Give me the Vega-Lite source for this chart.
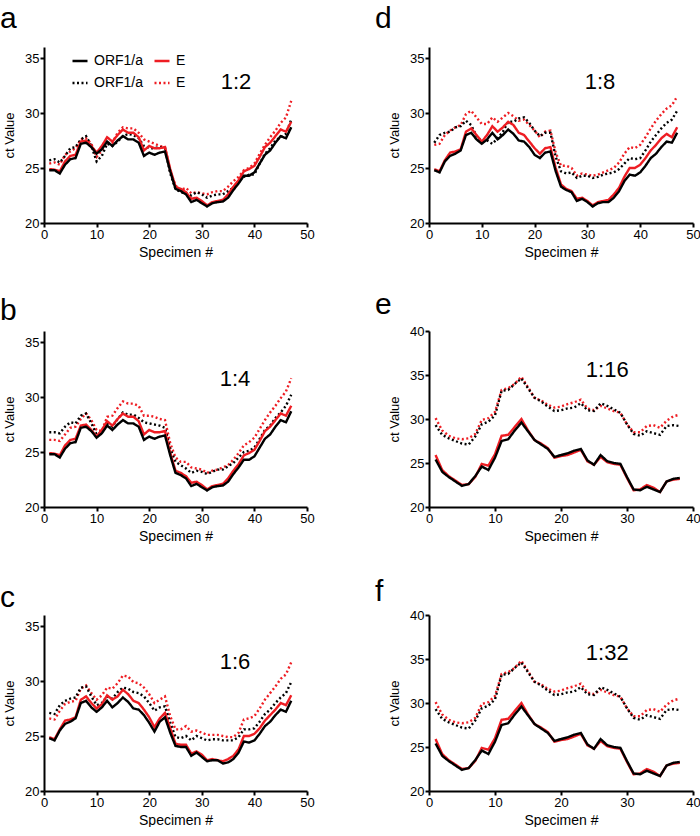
{
  "$schema": "https://vega.github.io/schema/vega-lite/v6.json",
  "background": "white",
  "padding": {"left": 0, "top": 4, "right": 0, "bottom": 0},
  "config": {
    "font": "Liberation Sans",
    "view": {"stroke": null},
    "axis": {
      "grid": false, "domainColor": "black", "domainWidth": 2,
      "tickColor": "black", "tickWidth": 2, "tickSize": 4,
      "labelColor": "black", "labelFontSize": 13, "labelPadding": 1,
      "titleFontSize": 14, "titleFontWeight": "normal", "titleColor": "black"
    },
    "axisX": {"labelFlush": false, "titlePadding": 4},
    "axisY": {"titleFontSize": 13, "titlePadding": 8},
    "title": {"fontSize": 30, "fontWeight": "normal", "color": "black", "anchor": "start", "frame": "group"},
    "line": {"strokeWidth": 2.4, "strokeCap": "butt"},
    "text": {"fontSize": 22, "align": "center", "baseline": "middle", "color": "black"}
  },
  "datasets": {
    "a": [
      {"x":1,"o":24.8,"e":24.9,"od":25.7,"ed":25.4},
      {"x":2,"o":24.8,"e":24.85,"od":25.8,"ed":25.5},
      {"x":3,"o":24.5,"e":24.7,"od":25.5,"ed":25.3},
      {"x":4,"o":25.3,"e":25.6,"od":26.1,"ed":26.2},
      {"x":5,"o":25.8,"e":26.1,"od":26.8,"ed":26.5},
      {"x":6,"o":25.9,"e":26.2,"od":26.9,"ed":26.8},
      {"x":7,"o":27.2,"e":27.4,"od":27.6,"ed":27.6},
      {"x":8,"o":27.3,"e":27.5,"od":27.9,"ed":27.7},
      {"x":9,"o":26.9,"e":27.0,"od":27.0,"ed":27.2},
      {"x":10,"o":26.3,"e":26.4,"od":25.6,"ed":26.0},
      {"x":11,"o":26.7,"e":27.0,"od":26.1,"ed":26.6},
      {"x":12,"o":27.4,"e":27.8,"od":27.2,"ed":27.3},
      {"x":13,"o":27.0,"e":27.4,"od":27.0,"ed":27.3},
      {"x":14,"o":27.5,"e":28.0,"od":27.4,"ed":28.2},
      {"x":15,"o":27.9,"e":28.5,"od":27.9,"ed":28.7},
      {"x":16,"o":27.6,"e":28.2,"od":28.1,"ed":28.6},
      {"x":17,"o":27.6,"e":28.2,"od":28.0,"ed":28.6},
      {"x":18,"o":27.3,"e":27.8,"od":27.7,"ed":28.2},
      {"x":19,"o":26.1,"e":26.6,"od":27.0,"ed":27.6},
      {"x":20,"o":26.4,"e":27.0,"od":26.8,"ed":27.4},
      {"x":21,"o":26.2,"e":26.8,"od":26.8,"ed":27.2},
      {"x":22,"o":26.4,"e":26.8,"od":26.9,"ed":27.0},
      {"x":23,"o":26.5,"e":26.9,"od":26.8,"ed":26.9},
      {"x":24,"o":24.7,"e":24.9,"od":24.5,"ed":24.7},
      {"x":25,"o":23.1,"e":23.3,"od":23.1,"ed":23.4},
      {"x":26,"o":22.9,"e":23.1,"od":22.8,"ed":23.0},
      {"x":27,"o":22.6,"e":22.8,"od":22.7,"ed":23.2},
      {"x":28,"o":21.9,"e":22.2,"od":22.5,"ed":22.7},
      {"x":29,"o":22.1,"e":22.3,"od":22.8,"ed":22.8},
      {"x":30,"o":21.8,"e":22.0,"od":22.6,"ed":22.7},
      {"x":31,"o":21.5,"e":21.6,"od":22.3,"ed":22.6},
      {"x":32,"o":21.8,"e":21.9,"od":22.5,"ed":22.8},
      {"x":33,"o":21.9,"e":22.0,"od":22.6,"ed":22.9},
      {"x":34,"o":21.95,"e":22.1,"od":22.6,"ed":22.9},
      {"x":35,"o":22.3,"e":22.6,"od":22.9,"ed":23.3},
      {"x":36,"o":23.0,"e":23.3,"od":23.2,"ed":23.8},
      {"x":37,"o":23.6,"e":23.9,"od":23.8,"ed":24.2},
      {"x":38,"o":24.3,"e":24.7,"od":24.2,"ed":24.8},
      {"x":39,"o":24.3,"e":24.9,"od":24.4,"ed":25.0},
      {"x":40,"o":24.6,"e":25.2,"od":24.4,"ed":25.4},
      {"x":41,"o":25.4,"e":26.0,"od":25.4,"ed":26.3},
      {"x":42,"o":26.2,"e":26.9,"od":26.3,"ed":27.1},
      {"x":43,"o":26.6,"e":27.3,"od":26.8,"ed":27.8},
      {"x":44,"o":27.3,"e":27.9,"od":27.5,"ed":28.4},
      {"x":45,"o":27.9,"e":28.5,"od":27.8,"ed":29.1},
      {"x":46,"o":27.7,"e":28.3,"od":28.1,"ed":29.6},
      {"x":47,"o":28.7,"e":29.2,"od":29.4,"ed":31.1}
    ],
    "b": [
      {"x":1,"o":24.8,"e":24.9,"od":26.8,"ed":26.1},
      {"x":2,"o":24.8,"e":24.85,"od":26.8,"ed":26.1},
      {"x":3,"o":24.5,"e":24.7,"od":26.7,"ed":26.0},
      {"x":4,"o":25.3,"e":25.6,"od":27.3,"ed":26.6},
      {"x":5,"o":25.8,"e":26.1,"od":27.7,"ed":27.2},
      {"x":6,"o":25.9,"e":26.2,"od":27.6,"ed":27.3},
      {"x":7,"o":27.2,"e":27.4,"od":28.3,"ed":28.0},
      {"x":8,"o":27.3,"e":27.5,"od":28.5,"ed":28.5},
      {"x":9,"o":26.9,"e":27.0,"od":27.6,"ed":27.9},
      {"x":10,"o":26.3,"e":26.4,"od":26.6,"ed":27.0},
      {"x":11,"o":26.7,"e":27.0,"od":26.8,"ed":26.9},
      {"x":12,"o":27.4,"e":27.8,"od":27.6,"ed":28.2},
      {"x":13,"o":27.0,"e":27.4,"od":27.3,"ed":28.3},
      {"x":14,"o":27.5,"e":28.0,"od":28.0,"ed":29.0},
      {"x":15,"o":27.9,"e":28.5,"od":28.6,"ed":29.6},
      {"x":16,"o":27.6,"e":28.2,"od":28.4,"ed":29.4},
      {"x":17,"o":27.6,"e":28.2,"od":28.4,"ed":29.4},
      {"x":18,"o":27.3,"e":27.8,"od":28.1,"ed":29.2},
      {"x":19,"o":26.1,"e":26.6,"od":27.7,"ed":28.3},
      {"x":20,"o":26.4,"e":27.0,"od":27.6,"ed":28.3},
      {"x":21,"o":26.2,"e":26.8,"od":27.5,"ed":28.2},
      {"x":22,"o":26.4,"e":26.8,"od":27.4,"ed":28.0},
      {"x":23,"o":26.5,"e":26.9,"od":27.2,"ed":27.9},
      {"x":24,"o":24.7,"e":24.9,"od":25.3,"ed":25.8},
      {"x":25,"o":23.1,"e":23.3,"od":24.1,"ed":24.5},
      {"x":26,"o":22.9,"e":23.1,"od":23.8,"ed":24.1},
      {"x":27,"o":22.6,"e":22.8,"od":23.5,"ed":24.1},
      {"x":28,"o":21.9,"e":22.2,"od":23.1,"ed":23.6},
      {"x":29,"o":22.1,"e":22.3,"od":23.3,"ed":23.5},
      {"x":30,"o":21.8,"e":22.0,"od":23.2,"ed":23.4},
      {"x":31,"o":21.5,"e":21.6,"od":23.0,"ed":23.1},
      {"x":32,"o":21.8,"e":21.9,"od":23.2,"ed":23.3},
      {"x":33,"o":21.9,"e":22.0,"od":23.4,"ed":23.4},
      {"x":34,"o":21.95,"e":22.1,"od":23.4,"ed":23.6},
      {"x":35,"o":22.3,"e":22.6,"od":23.7,"ed":23.8},
      {"x":36,"o":23.0,"e":23.3,"od":24.0,"ed":24.3},
      {"x":37,"o":23.6,"e":23.9,"od":24.5,"ed":24.9},
      {"x":38,"o":24.3,"e":24.7,"od":25.0,"ed":25.6},
      {"x":39,"o":24.3,"e":24.9,"od":25.1,"ed":25.9},
      {"x":40,"o":24.6,"e":25.2,"od":25.4,"ed":26.3},
      {"x":41,"o":25.4,"e":26.0,"od":26.2,"ed":27.1},
      {"x":42,"o":26.2,"e":26.9,"od":27.0,"ed":27.9},
      {"x":43,"o":26.6,"e":27.3,"od":27.4,"ed":28.6},
      {"x":44,"o":27.3,"e":27.9,"od":28.1,"ed":29.2},
      {"x":45,"o":27.9,"e":28.5,"od":28.6,"ed":29.9},
      {"x":46,"o":27.7,"e":28.3,"od":29.2,"ed":30.5},
      {"x":47,"o":28.7,"e":29.2,"od":30.2,"ed":31.7}
    ],
    "c": [
      {"x":1,"o":24.8,"e":24.9,"od":27.1,"ed":26.6},
      {"x":2,"o":24.6,"e":24.7,"od":27.0,"ed":26.5},
      {"x":3,"o":25.5,"e":25.6,"od":27.8,"ed":27.3},
      {"x":4,"o":26.1,"e":26.4,"od":28.2,"ed":27.9},
      {"x":5,"o":26.3,"e":26.5,"od":28.4,"ed":28.1},
      {"x":6,"o":26.6,"e":26.7,"od":28.5,"ed":28.2},
      {"x":7,"o":28.0,"e":28.3,"od":29.4,"ed":29.3},
      {"x":8,"o":28.2,"e":28.6,"od":29.5,"ed":29.6},
      {"x":9,"o":27.6,"e":28.0,"od":28.6,"ed":28.9},
      {"x":10,"o":27.2,"e":27.5,"od":27.8,"ed":28.3},
      {"x":11,"o":27.6,"e":27.9,"od":28.0,"ed":28.7},
      {"x":12,"o":28.2,"e":28.7,"od":28.6,"ed":29.4},
      {"x":13,"o":27.6,"e":28.3,"od":28.4,"ed":29.3},
      {"x":14,"o":28.0,"e":28.6,"od":29.0,"ed":29.8},
      {"x":15,"o":28.5,"e":29.2,"od":29.4,"ed":30.5},
      {"x":16,"o":28.1,"e":28.8,"od":29.3,"ed":30.4},
      {"x":17,"o":27.5,"e":28.2,"od":29.0,"ed":29.9},
      {"x":18,"o":27.4,"e":28.0,"od":28.9,"ed":29.8},
      {"x":19,"o":26.9,"e":27.4,"od":28.6,"ed":29.4},
      {"x":20,"o":26.2,"e":26.7,"od":28.0,"ed":28.8},
      {"x":21,"o":25.4,"e":25.8,"od":27.3,"ed":28.0},
      {"x":22,"o":26.3,"e":26.6,"od":27.6,"ed":28.3},
      {"x":23,"o":26.7,"e":27.1,"od":27.7,"ed":28.6},
      {"x":24,"o":25.3,"e":25.7,"od":26.2,"ed":26.8},
      {"x":25,"o":24.1,"e":24.3,"od":24.9,"ed":25.6},
      {"x":26,"o":24.0,"e":24.2,"od":24.8,"ed":25.6},
      {"x":27,"o":24.0,"e":24.2,"od":25.0,"ed":25.9},
      {"x":28,"o":23.2,"e":23.4,"od":24.6,"ed":25.4},
      {"x":29,"o":23.5,"e":23.6,"od":25.0,"ed":25.5},
      {"x":30,"o":23.1,"e":23.3,"od":24.8,"ed":25.3},
      {"x":31,"o":22.7,"e":22.8,"od":24.6,"ed":25.1},
      {"x":32,"o":22.8,"e":22.9,"od":24.7,"ed":25.1},
      {"x":33,"o":22.8,"e":22.8,"od":24.7,"ed":25.1},
      {"x":34,"o":22.5,"e":22.7,"od":24.6,"ed":25.0},
      {"x":35,"o":22.6,"e":22.9,"od":24.6,"ed":24.9},
      {"x":36,"o":22.9,"e":23.2,"od":24.6,"ed":24.9},
      {"x":37,"o":23.5,"e":23.8,"od":24.9,"ed":25.3},
      {"x":38,"o":24.5,"e":25.0,"od":25.6,"ed":26.5},
      {"x":39,"o":24.4,"e":25.0,"od":25.6,"ed":26.6},
      {"x":40,"o":24.6,"e":25.2,"od":25.7,"ed":26.8},
      {"x":41,"o":25.2,"e":25.7,"od":26.3,"ed":27.5},
      {"x":42,"o":25.9,"e":26.4,"od":27.0,"ed":28.3},
      {"x":43,"o":26.3,"e":26.9,"od":27.4,"ed":28.9},
      {"x":44,"o":26.9,"e":27.4,"od":28.0,"ed":29.5},
      {"x":45,"o":27.4,"e":28.0,"od":28.5,"ed":30.2},
      {"x":46,"o":27.2,"e":27.8,"od":28.9,"ed":30.6},
      {"x":47,"o":28.2,"e":28.7,"od":29.9,"ed":31.7}
    ],
    "d": [
      {"x":1,"o":24.8,"e":24.9,"od":27.3,"ed":27.1},
      {"x":2,"o":24.6,"e":24.7,"od":28.0,"ed":27.2},
      {"x":3,"o":25.6,"e":25.7,"od":28.2,"ed":28.0},
      {"x":4,"o":26.1,"e":26.4,"od":28.3,"ed":28.4},
      {"x":5,"o":26.3,"e":26.5,"od":28.7,"ed":28.7},
      {"x":6,"o":26.6,"e":26.7,"od":28.8,"ed":28.9},
      {"x":7,"o":28.0,"e":28.3,"od":29.3,"ed":29.9},
      {"x":8,"o":28.2,"e":28.6,"od":28.9,"ed":30.2},
      {"x":9,"o":27.6,"e":28.0,"od":27.9,"ed":29.6},
      {"x":10,"o":27.2,"e":27.4,"od":27.4,"ed":29.0},
      {"x":11,"o":27.6,"e":28.0,"od":27.5,"ed":29.0},
      {"x":12,"o":28.2,"e":28.8,"od":27.2,"ed":29.6},
      {"x":13,"o":27.6,"e":28.3,"od":27.7,"ed":29.2},
      {"x":14,"o":28.0,"e":28.7,"od":28.3,"ed":29.6},
      {"x":15,"o":28.5,"e":29.2,"od":29.2,"ed":30.0},
      {"x":16,"o":28.1,"e":28.9,"od":29.2,"ed":29.7},
      {"x":17,"o":27.5,"e":28.2,"od":29.5,"ed":29.3},
      {"x":18,"o":27.4,"e":28.0,"od":29.6,"ed":29.4},
      {"x":19,"o":26.9,"e":27.4,"od":29.1,"ed":28.9},
      {"x":20,"o":26.2,"e":26.8,"od":28.4,"ed":28.4},
      {"x":21,"o":25.9,"e":26.3,"od":27.9,"ed":27.8},
      {"x":22,"o":26.4,"e":26.8,"od":28.2,"ed":28.3},
      {"x":23,"o":26.5,"e":26.9,"od":28.2,"ed":28.4},
      {"x":24,"o":24.7,"e":25.0,"od":26.0,"ed":26.4},
      {"x":25,"o":23.3,"e":23.5,"od":24.7,"ed":25.2},
      {"x":26,"o":23.0,"e":23.1,"od":24.5,"ed":25.2},
      {"x":27,"o":22.8,"e":22.9,"od":24.6,"ed":25.0},
      {"x":28,"o":22.0,"e":22.2,"od":24.1,"ed":24.3},
      {"x":29,"o":22.2,"e":22.3,"od":24.3,"ed":24.5},
      {"x":30,"o":21.9,"e":22.0,"od":24.3,"ed":24.4},
      {"x":31,"o":21.5,"e":21.6,"od":24.1,"ed":24.3},
      {"x":32,"o":21.8,"e":21.9,"od":24.2,"ed":24.4},
      {"x":33,"o":21.9,"e":22.0,"od":24.4,"ed":24.6},
      {"x":34,"o":21.9,"e":22.1,"od":24.5,"ed":24.8},
      {"x":35,"o":22.3,"e":22.6,"od":24.6,"ed":25.0},
      {"x":36,"o":22.9,"e":23.2,"od":24.9,"ed":25.5},
      {"x":37,"o":23.8,"e":24.2,"od":25.4,"ed":26.3},
      {"x":38,"o":24.4,"e":25.0,"od":25.9,"ed":26.9},
      {"x":39,"o":24.3,"e":25.0,"od":25.8,"ed":26.8},
      {"x":40,"o":24.6,"e":25.3,"od":25.9,"ed":27.1},
      {"x":41,"o":25.2,"e":25.9,"od":26.6,"ed":27.8},
      {"x":42,"o":25.9,"e":26.6,"od":27.4,"ed":28.6},
      {"x":43,"o":26.3,"e":27.1,"od":28.0,"ed":29.3},
      {"x":44,"o":26.9,"e":27.7,"od":28.6,"ed":29.9},
      {"x":45,"o":27.4,"e":28.1,"od":29.1,"ed":30.4},
      {"x":46,"o":27.3,"e":27.8,"od":29.4,"ed":30.7},
      {"x":47,"o":28.2,"e":28.7,"od":30.2,"ed":31.5}
    ],
    "e": [
      {"x":1,"o":25.4,"e":25.9,"od":29.3,"ed":30.1},
      {"x":2,"o":24.0,"e":24.2,"od":28.2,"ed":28.7},
      {"x":3,"o":23.4,"e":23.5,"od":27.8,"ed":28.1},
      {"x":4,"o":22.9,"e":23.0,"od":27.5,"ed":27.8},
      {"x":5,"o":22.4,"e":22.5,"od":27.2,"ed":27.7},
      {"x":6,"o":22.6,"e":22.6,"od":27.1,"ed":27.8},
      {"x":7,"o":23.5,"e":23.4,"od":28.0,"ed":28.3},
      {"x":8,"o":24.6,"e":24.9,"od":29.4,"ed":29.9},
      {"x":9,"o":24.2,"e":24.7,"od":29.7,"ed":30.1},
      {"x":10,"o":25.6,"e":26.0,"od":30.4,"ed":30.8},
      {"x":11,"o":27.5,"e":28.1,"od":33.2,"ed":33.3},
      {"x":12,"o":27.7,"e":28.2,"od":33.3,"ed":33.5},
      {"x":13,"o":28.7,"e":29.1,"od":34.0,"ed":34.0},
      {"x":14,"o":29.6,"e":30.0,"od":34.6,"ed":34.8},
      {"x":15,"o":28.6,"e":28.7,"od":33.5,"ed":33.6},
      {"x":16,"o":27.6,"e":27.6,"od":32.4,"ed":32.4},
      {"x":17,"o":27.1,"e":27.2,"od":32.0,"ed":32.1},
      {"x":18,"o":26.6,"e":26.7,"od":31.4,"ed":31.6},
      {"x":19,"o":25.7,"e":25.6,"od":30.9,"ed":31.3},
      {"x":20,"o":25.9,"e":25.8,"od":31.0,"ed":31.4},
      {"x":21,"o":26.1,"e":25.9,"od":31.2,"ed":31.7},
      {"x":22,"o":26.4,"e":26.2,"od":31.3,"ed":31.9},
      {"x":23,"o":26.6,"e":26.5,"od":31.8,"ed":32.2},
      {"x":24,"o":25.3,"e":25.2,"od":31.0,"ed":31.2},
      {"x":25,"o":24.8,"e":24.8,"od":30.9,"ed":31.0},
      {"x":26,"o":25.9,"e":25.7,"od":31.8,"ed":31.5},
      {"x":27,"o":25.2,"e":25.1,"od":31.5,"ed":31.2},
      {"x":28,"o":25.0,"e":24.9,"od":31.1,"ed":30.9},
      {"x":29,"o":24.9,"e":24.8,"od":30.7,"ed":30.7},
      {"x":30,"o":23.4,"e":23.3,"od":29.4,"ed":29.4},
      {"x":31,"o":22.0,"e":21.9,"od":28.3,"ed":28.5},
      {"x":32,"o":21.9,"e":22.0,"od":28.1,"ed":28.5},
      {"x":33,"o":22.3,"e":22.5,"od":28.6,"ed":29.2},
      {"x":34,"o":22.0,"e":22.2,"od":28.4,"ed":29.3},
      {"x":35,"o":21.7,"e":21.7,"od":28.2,"ed":29.0},
      {"x":36,"o":22.9,"e":22.9,"od":29.2,"ed":29.8},
      {"x":37,"o":23.2,"e":23.1,"od":29.3,"ed":30.3},
      {"x":38,"o":23.3,"e":23.2,"od":29.2,"ed":30.5}
    ]
  },
  "resolve": {"scale": {"color": "independent", "strokeDash": "independent"}},
  "columns": 2,
  "bounds": "flush",
  "spacing": {"row": 108, "column": 122},
  "concat": [
    {
      "width": 263, "height": 176,
      "title": {"text": "a", "dx": -44, "offset": 13},
      "layer": [
        {
          "data": {"name": "a"},
          "transform": [{"fold": ["ed", "od", "e", "o"], "as": ["s", "ct"]}],
          "mark": "line",
          "encoding": {
            "x": {"field": "x", "type": "quantitative", "scale": {"domain": [0, 50]}, "axis": {"title": "Specimen #", "values": [0, 10, 20, 30, 40, 50]}},
            "y": {"field": "ct", "type": "quantitative", "scale": {"domain": [20, 35]}, "axis": {"title": "ct Value", "values": [20, 25, 30, 35]}},
            "color": {"field": "s", "type": "nominal", "scale": {"domain": ["o", "od", "e", "ed"], "range": ["black", "black", "#ee1d23", "#ee1d23"]},
              "legend": {"orient": "none", "legendX": 27, "legendY": 5, "columns": 2, "columnPadding": 5, "rowPadding": 6, "title": null, "labelFontSize": 14, "labelColor": "black", "labelOffset": 5, "symbolType": "stroke", "symbolSize": 225, "symbolStrokeWidth": 2.4, "labelExpr": "datum.value == 'o' || datum.value == 'od' ? 'ORF1/a' : 'E'"}},
            "strokeDash": {"field": "s", "type": "nominal", "scale": {"domain": ["o", "od", "e", "ed"], "range": [[1, 0], [2, 2.5], [1, 0], [2, 2.5]]},
              "legend": {"orient": "none", "legendX": 27, "legendY": 5, "columns": 2, "columnPadding": 5, "rowPadding": 6, "title": null, "labelFontSize": 14, "labelColor": "black", "labelOffset": 5, "symbolType": "stroke", "symbolSize": 225, "symbolStrokeWidth": 2.4, "labelExpr": "datum.value == 'o' || datum.value == 'od' ? 'ORF1/a' : 'E'"}}
          }
        },
        {
          "data": {"values": [{"label": "1:2"}]},
          "mark": "text",
          "encoding": {"x": {"datum": 36.5}, "y": {"datum": 32.8}, "text": {"field": "label"}}
        }
      ]
    },
    {
      "width": 264, "height": 176,
      "title": {"text": "d", "dx": -54, "offset": 13},
      "layer": [
        {
          "data": {"name": "d"},
          "transform": [{"fold": ["ed", "od", "e", "o"], "as": ["s", "ct"]}],
          "mark": "line",
          "encoding": {
            "x": {"field": "x", "type": "quantitative", "scale": {"domain": [0, 50]}, "axis": {"title": "Specimen #", "values": [0, 10, 20, 30, 40, 50]}},
            "y": {"field": "ct", "type": "quantitative", "scale": {"domain": [20, 35]}, "axis": {"title": "ct Value", "values": [20, 25, 30, 35]}},
            "color": {"field": "s", "type": "nominal", "scale": {"domain": ["o", "od", "e", "ed"], "range": ["black", "black", "#ee1d23", "#ee1d23"]}, "legend": null},
            "strokeDash": {"field": "s", "type": "nominal", "scale": {"domain": ["o", "od", "e", "ed"], "range": [[1, 0], [2, 2.5], [1, 0], [2, 2.5]]}, "legend": null}
          }
        },
        {
          "data": {"values": [{"label": "1:8"}]},
          "mark": "text",
          "encoding": {"x": {"datum": 32.4}, "y": {"datum": 32.8}, "text": {"field": "label"}}
        }
      ]
    },
    {
      "width": 263, "height": 176,
      "title": {"text": "b", "dx": -44, "offset": 5},
      "layer": [
        {
          "data": {"name": "b"},
          "transform": [{"fold": ["ed", "od", "e", "o"], "as": ["s", "ct"]}],
          "mark": "line",
          "encoding": {
            "x": {"field": "x", "type": "quantitative", "scale": {"domain": [0, 50]}, "axis": {"title": "Specimen #", "values": [0, 10, 20, 30, 40, 50]}},
            "y": {"field": "ct", "type": "quantitative", "scale": {"domain": [20, 35]}, "axis": {"title": "ct Value", "values": [20, 25, 30, 35]}},
            "color": {"field": "s", "type": "nominal", "scale": {"domain": ["o", "od", "e", "ed"], "range": ["black", "black", "#ee1d23", "#ee1d23"]}, "legend": null},
            "strokeDash": {"field": "s", "type": "nominal", "scale": {"domain": ["o", "od", "e", "ed"], "range": [[1, 0], [2, 2.5], [1, 0], [2, 2.5]]}, "legend": null}
          }
        },
        {
          "data": {"values": [{"label": "1:4"}]},
          "mark": "text",
          "encoding": {"x": {"datum": 36.3}, "y": {"datum": 31.6}, "text": {"field": "label"}}
        }
      ]
    },
    {
      "width": 264, "height": 176,
      "title": {"text": "e", "dx": -54, "offset": 5},
      "layer": [
        {
          "data": {"name": "e"},
          "transform": [{"fold": ["ed", "od", "e", "o"], "as": ["s", "ct"]}],
          "mark": "line",
          "encoding": {
            "x": {"field": "x", "type": "quantitative", "scale": {"domain": [0, 40]}, "axis": {"title": "Specimen #", "values": [0, 10, 20, 30, 40]}},
            "y": {"field": "ct", "type": "quantitative", "scale": {"domain": [20, 40]}, "axis": {"title": "ct Value", "values": [20, 25, 30, 35, 40]}},
            "color": {"field": "s", "type": "nominal", "scale": {"domain": ["o", "od", "e", "ed"], "range": ["black", "black", "#ee1d23", "#ee1d23"]}, "legend": null},
            "strokeDash": {"field": "s", "type": "nominal", "scale": {"domain": ["o", "od", "e", "ed"], "range": [[1, 0], [2, 2.5], [1, 0], [2, 2.5]]}, "legend": null}
          }
        },
        {
          "data": {"values": [{"label": "1:16"}]},
          "mark": "text",
          "encoding": {"x": {"datum": 27.0}, "y": {"datum": 35.6}, "text": {"field": "label"}}
        }
      ]
    },
    {
      "width": 263, "height": 176,
      "title": {"text": "c", "dx": -44, "offset": 2},
      "layer": [
        {
          "data": {"name": "c"},
          "transform": [{"fold": ["ed", "od", "e", "o"], "as": ["s", "ct"]}],
          "mark": "line",
          "encoding": {
            "x": {"field": "x", "type": "quantitative", "scale": {"domain": [0, 50]}, "axis": {"title": "Specimen #", "values": [0, 10, 20, 30, 40, 50]}},
            "y": {"field": "ct", "type": "quantitative", "scale": {"domain": [20, 35]}, "axis": {"title": "ct Value", "values": [20, 25, 30, 35]}},
            "color": {"field": "s", "type": "nominal", "scale": {"domain": ["o", "od", "e", "ed"], "range": ["black", "black", "#ee1d23", "#ee1d23"]}, "legend": null},
            "strokeDash": {"field": "s", "type": "nominal", "scale": {"domain": ["o", "od", "e", "ed"], "range": [[1, 0], [2, 2.5], [1, 0], [2, 2.5]]}, "legend": null}
          }
        },
        {
          "data": {"values": [{"label": "1:6"}]},
          "mark": "text",
          "encoding": {"x": {"datum": 36.3}, "y": {"datum": 31.7}, "text": {"field": "label"}}
        }
      ]
    },
    {
      "width": 264, "height": 176,
      "title": {"text": "f", "dx": -54, "offset": 2},
      "layer": [
        {
          "data": {"name": "e"},
          "transform": [{"fold": ["ed", "od", "e", "o"], "as": ["s", "ct"]}],
          "mark": "line",
          "encoding": {
            "x": {"field": "x", "type": "quantitative", "scale": {"domain": [0, 40]}, "axis": {"title": "Specimen #", "values": [0, 10, 20, 30, 40]}},
            "y": {"field": "ct", "type": "quantitative", "scale": {"domain": [20, 40]}, "axis": {"title": "ct Value", "values": [20, 25, 30, 35, 40]}},
            "color": {"field": "s", "type": "nominal", "scale": {"domain": ["o", "od", "e", "ed"], "range": ["black", "black", "#ee1d23", "#ee1d23"]}, "legend": null},
            "strokeDash": {"field": "s", "type": "nominal", "scale": {"domain": ["o", "od", "e", "ed"], "range": [[1, 0], [2, 2.5], [1, 0], [2, 2.5]]}, "legend": null}
          }
        },
        {
          "data": {"values": [{"label": "1:32"}]},
          "mark": "text",
          "encoding": {"x": {"datum": 27.0}, "y": {"datum": 35.7}, "text": {"field": "label"}}
        }
      ]
    }
  ]
}
